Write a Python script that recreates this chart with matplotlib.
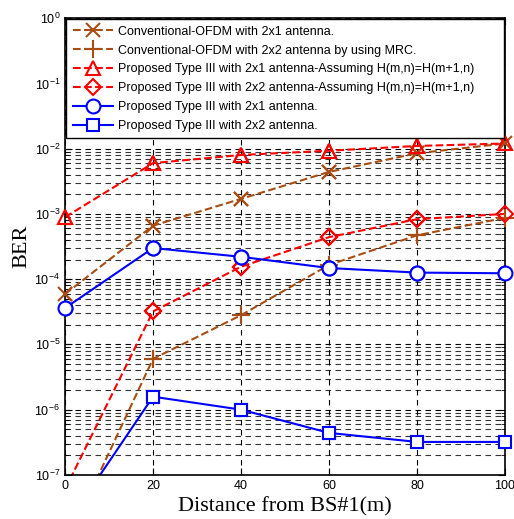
"""BER vs distance from BS#1 for conventional OFDM and proposed Type III."""

import numpy as np
import matplotlib
matplotlib.use("Agg")
import matplotlib.pyplot as plt
from matplotlib.ticker import LogLocator, NullFormatter

# distance from BS#1 (m)
distance = [0, 20, 40, 60, 80, 100]

# BER values
conv_2x1 = [5.9e-5, 6.6e-4, 1.7e-3, 4.4e-3, 8.5e-3, 1.2e-2]
conv_2x2_mrc = [8e-9, 6e-6, 2.8e-5, 1.65e-4, 4.7e-4, 8.7e-4]
prop_2x1_assume = [8.9e-4, 6.0e-3, 8.0e-3, 9.3e-3, 1.1e-2, 1.2e-2]
prop_2x2_assume = [6e-8, 3.2e-5, 1.55e-4, 4.4e-4, 8.3e-4, 1.0e-3]
prop_2x1 = [3.6e-5, 3.0e-4, 2.2e-4, 1.48e-4, 1.26e-4, 1.23e-4]
prop_2x2 = [1.6e-8, 1.58e-6, 1.0e-6, 4.4e-7, 3.2e-7, 3.2e-7]

labels = [
    "Conventional-OFDM with 2x1 antenna.",
    "Conventional-OFDM with 2x2 antenna by using MRC.",
    "Proposed Type III with 2x1 antenna-Assuming H(m,n)=H(m+1,n)",
    "Proposed Type III with 2x2 antenna-Assuming H(m,n)=H(m+1,n)",
    "Proposed Type III with 2x1 antenna.",
    "Proposed Type III with 2x2 antenna.",
]

BROWN = "#A84E14"
YMIN, YMAX = 1e-7, 1

series = [
    (conv_2x1, "--", "x", BROWN, 10, BROWN),
    (conv_2x2_mrc, "--", "+", BROWN, 13, BROWN),
    (prop_2x1_assume, "--", "^", "red", 10, "none"),
    (prop_2x2_assume, "--", "D", "red", 8, "none"),
    (prop_2x1, "-", "o", "blue", 10, "white"),
    (prop_2x2, "-", "s", "blue", 9, "white"),
]

fig = plt.figure(figsize=(5.14, 5.19), dpi=100)
ax = fig.add_axes([0.1265, 0.085, 0.856, 0.88])

for (vals, ls, mk, col, ms, mfc), lab in zip(series, labels):
    ax.semilogy(distance, vals, linestyle=ls, marker=mk, color=col, lw=1.5,
                ms=ms, mew=1.5, mfc=mfc, label=lab)
    # markers at the axes edges are not clipped in the reference
    xs = [x for x, v in zip(distance, vals) if v >= YMIN]
    vs = [v for v in vals if v >= YMIN]
    ax.semilogy(xs, vs, linestyle="none", marker=mk, color=col, ms=ms, mew=1.5,
                mfc=mfc, clip_on=False, zorder=3)

ax.set_xlim(0, 100)
ax.set_ylim(YMIN, YMAX)
ax.set_xticks([0, 20, 40, 60, 80, 100])
ax.yaxis.set_major_locator(LogLocator(base=10, numticks=10))
ax.yaxis.set_minor_locator(LogLocator(base=10, subs=np.arange(2, 10), numticks=20))
ax.yaxis.set_minor_formatter(NullFormatter())

ax.grid(True, which="major", color="black", linestyle=(0, (5, 4)), lw=0.8)
ax.grid(True, which="minor", axis="y", color="black", linestyle=(0, (5, 4)), lw=0.8, alpha=0.8)

ax.tick_params(which="both", direction="in", top=True, right=True, labelsize=9)
ax.tick_params(which="major", length=5)
ax.tick_params(which="minor", length=3)
for s in ax.spines.values():
    s.set_linewidth(1.2)

ax.set_xlabel("Distance from BS#1(m)", family="Liberation Serif", fontsize=16, labelpad=4)
ax.set_ylabel("BER", family="Liberation Serif", fontsize=16, labelpad=2)
for t in ax.get_xticklabels() + ax.get_yticklabels():
    t.set_family("Liberation Sans")

leg = ax.legend(loc="upper left", bbox_to_anchor=(0, 1.0, 1.0, 0), mode="expand",
                prop={"family": "Liberation Sans", "size": 9}, fancybox=False,
                framealpha=1, edgecolor="black", borderaxespad=0.1,
                handlelength=3.2, handletextpad=0.4, labelspacing=0.55, borderpad=0.5)
leg.get_frame().set_linewidth(1.0)
leg.set_zorder(5)

fig.savefig("out.png", dpi=100)
